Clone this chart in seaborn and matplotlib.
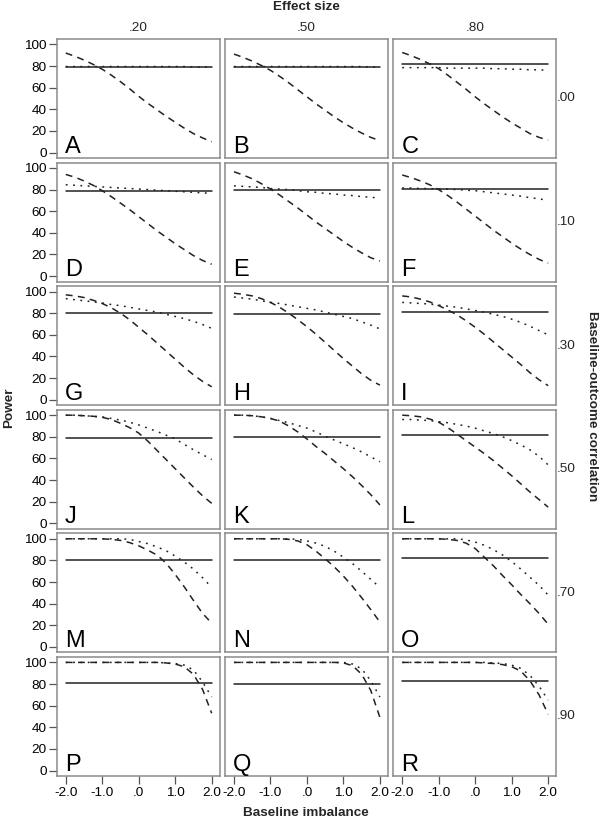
import numpy as np
import pandas as pd
import matplotlib
matplotlib.use("Agg")
import matplotlib.pyplot as plt
import seaborn as sns

# -----------------------------
# Data
# -----------------------------
imbalance = [-2.0, -1.75, -1.5, -1.25, -1.0, -0.75, -0.5, -0.25, 0.0,
             0.25, 0.5, 0.75, 1.0, 1.25, 1.5, 1.75, 2.0]
effect_sizes = [".20", ".50", ".80"]
correlations = [".00", ".10", ".30", ".50", ".70", ".90"]
panel_letters = list("ABCDEFGHIJKLMNOPQR")

x_ticks = [-2.0, -1.0, 0.0, 1.0, 2.0]
x_tick_labels = ["-2.0", "-1.0", ".0", "1.0", "2.0"]
y_ticks = [0, 20, 40, 60, 80, 100]

# solid line: flat power per panel (A..R)
solid_power = [79, 79, 81.5, 78.5, 80, 81, 80, 79, 81.5,
               79, 80, 82, 80, 80, 82.5, 80.5, 80, 82.5]

# dashed line, one list per panel (A..R)
dashed_power = [
    [92, 89, 85.5, 81.5, 77, 71.5, 65.5, 59, 52, 45.5, 39.5, 33.5, 28, 22.5, 17.5, 13.5, 10],
    [91, 88, 84.5, 80.5, 76, 70.5, 64.5, 58, 51.5, 45, 39, 33, 27.5, 22.5, 18, 14, 11],
    [92.5, 89.5, 86, 82, 77.5, 71.5, 65, 58.5, 51.5, 45, 39, 33, 27.5, 22.5, 17.5, 14, 11.5],
    [94, 91.5, 88, 84, 79, 73.5, 67.5, 61.5, 55, 48.5, 42, 36, 30, 24.5, 19, 14.5, 11],
    [96.5, 93.5, 90, 85.5, 80.5, 75, 69, 63, 56.5, 50, 44, 38, 32, 26.5, 21.5, 17, 14],
    [93.5, 91, 88, 84.5, 80, 74.5, 68.5, 62, 55.5, 49, 42.5, 36.5, 30.5, 25, 20, 15.5, 12],
    [97, 96, 94.5, 92, 89, 85, 80, 74, 67, 60, 52.5, 45, 37.5, 30, 23, 17, 12],
    [98.5, 97.5, 96, 93.5, 90, 85.5, 80, 74, 67.5, 60.5, 53, 45.5, 38, 31, 24, 18, 13.5],
    [96, 95, 93, 90.5, 87, 83, 78.5, 73, 67, 60.5, 53.5, 46.5, 39.5, 32.5, 25, 18.5, 13],
    [100, 100, 99.5, 99, 98, 96, 92.5, 88.5, 83.5, 76, 67.5, 59, 50.5, 42, 33.5, 25.5, 18.5],
    [100, 100, 99.5, 98.5, 97, 94.5, 90, 84.5, 78, 71, 64.5, 57.5, 50.5, 43, 35, 26.5, 17],
    [100, 99.5, 98.5, 96.5, 93.5, 88.5, 82.5, 76.5, 70.5, 64.5, 58, 51, 44, 36.5, 29, 22, 15],
    [100, 100, 100, 100, 100, 99.5, 98.5, 96.5, 93.5, 89.5, 85, 77.5, 67, 55.5, 43, 31, 22],
    [100, 100, 100, 100, 100, 100, 99.5, 98, 94.5, 88.5, 81.5, 74, 65.5, 56, 45.5, 34.5, 23],
    [100, 100, 100, 100, 100, 99.5, 98.5, 96, 91, 83, 75, 66, 57.5, 48.5, 40, 31, 21],
    [100, 100, 100, 100, 100, 100, 100, 100, 100, 100, 100, 99.5, 98.5, 96, 89, 75, 53],
    [100, 100, 100, 100, 100, 100, 100, 100, 100, 100, 100, 100, 99.5, 97, 89, 74, 49],
    [100, 100, 100, 100, 100, 100, 100, 100, 100, 99.5, 99, 98, 96, 92, 83, 70, 52],
]

# dotted line, one list per panel (A..R)
dotted_power = [
    [79.5, 79.5, 79.5, 79.5, 79.5, 79.5, 79.5, 79.5, 79.5, 79.5, 79.5, 79.5, 79.5, 79.5, 79, 79, 79],
    [79.5, 79.5, 79.5, 79.5, 79.5, 79.5, 79.5, 79.5, 79.5, 79.5, 79.5, 79.5, 79.5, 79.5, 79.5, 79, 79],
    [78.5, 78.5, 78.5, 78.5, 78.5, 78, 78, 78, 78, 78, 77.5, 77.5, 77, 77, 76.5, 76.5, 76],
    [84.5, 84, 83.5, 83, 82.5, 82, 81.5, 81, 80.5, 80, 79.5, 79, 78.5, 78, 77.5, 77, 76.5],
    [83.5, 83, 82.5, 82, 81, 80.5, 80, 79, 78, 77.5, 76.5, 76, 75, 74.5, 73.5, 73, 72],
    [81.5, 81.5, 81, 81, 80.5, 80.5, 80, 79.5, 79, 78, 77, 76, 75, 74, 72.5, 71.5, 70],
    [93.5, 92.5, 91.5, 90.5, 89.5, 88, 87, 85.5, 84, 82.5, 81, 79, 77, 75, 72.5, 69.5, 66],
    [95, 94, 93, 91.5, 90, 89, 87.5, 86, 84.5, 83, 81, 79, 77, 75, 72, 69, 65.5],
    [90, 89.5, 89, 88.5, 87.5, 86.5, 85.5, 84, 82.5, 81, 79, 77, 74.5, 71.5, 68, 64, 60],
    [100, 100, 99.5, 99, 98.5, 97, 95.5, 93.5, 91, 88, 85, 81.5, 78, 73, 68, 63.5, 59],
    [100, 100, 99.5, 98.5, 97, 95, 93, 90.5, 88, 84.5, 80.5, 77, 73.5, 70, 66, 61.5, 57],
    [96, 96, 95.5, 95, 94, 93, 91.5, 90, 88, 85.5, 83, 80, 76.5, 72.5, 68, 62, 54],
    [100, 100, 100, 100, 100, 100, 100, 99.5, 97.5, 95.5, 92.5, 89, 84, 78.5, 72, 64, 55],
    [100, 100, 100, 100, 100, 100, 100, 99.5, 98, 96, 93, 88.5, 83, 77, 70, 62.5, 55],
    [100, 100, 100, 100, 100, 100, 100, 99, 97, 94, 90, 85, 79, 72, 64.5, 57, 48],
    [100, 100, 100, 100, 100, 100, 100, 100, 100, 100, 100, 99.5, 99, 97.5, 93, 82, 68],
    [100, 100, 100, 100, 100, 100, 100, 100, 100, 100, 100, 100, 100, 98.5, 94, 83, 68],
    [100, 100, 100, 100, 100, 100, 100, 100, 100, 100, 99.5, 99, 97.5, 94.5, 88, 78, 65],
]

# -----------------------------
# Long table for seaborn
# -----------------------------
rows = []
for i in range(18):
    r, c = divmod(i, 3)
    for j, xv in enumerate(imbalance):
        rows.append((correlations[r], effect_sizes[c], xv, solid_power[i], "solid"))
        rows.append((correlations[r], effect_sizes[c], xv, dashed_power[i][j], "dashed"))
        rows.append((correlations[r], effect_sizes[c], xv, dotted_power[i][j], "dotted"))
df = pd.DataFrame(rows, columns=["corr", "es", "imbalance", "power", "line"])

# -----------------------------
# Plot
# -----------------------------
sns.set_style("white")
plt.rcParams["font.family"] = ["Liberation Sans", "DejaVu Sans"]

line_col = "#222222"
spine_col = "#8a8a8a"
fs = 9.7

g = sns.FacetGrid(df, row="corr", col="es", row_order=correlations,
                  col_order=effect_sizes, sharex=True, sharey=True,
                  despine=False, height=1.19, aspect=163 / 119)
g.map_dataframe(sns.lineplot, x="imbalance", y="power", style="line",
                style_order=["solid", "dashed", "dotted"],
                dashes={"solid": "", "dashed": (4.5, 3.5), "dotted": (1.2, 3.6)},
                color=line_col, linewidth=1.1, errorbar=None, legend=False)

g.figure.set_size_inches(6.0, 8.22)
g.figure.subplots_adjust(left=0.095, right=0.927, top=0.9526, bottom=0.056,
                         wspace=0.034, hspace=0.039)
g.set_titles("")
g.set_axis_labels("", "")
g.set(xlim=(-2.24, 2.22), ylim=(-5, 105))

for idx, ax in enumerate(g.axes.flat):
    r, c = divmod(idx, 3)
    for sp in ax.spines.values():
        sp.set_color(spine_col)
        sp.set_linewidth(1.1)
    ax.set_xticks(x_ticks)
    ax.set_yticks(y_ticks)
    ax.tick_params(axis="both", length=0, labelsize=fs, colors="black")
    if c == 0:
        ax.tick_params(axis="y", left=True, length=6, width=0.9,
                       color="#555555", pad=1.5)
        ax.set_yticklabels([str(v) for v in y_ticks])
    if r == 5:
        ax.tick_params(axis="x", bottom=True, length=6, width=0.9,
                       color="#555555", pad=2)
        ax.set_xticklabels(x_tick_labels)
    ax.text(0.048, 0.045, panel_letters[idx], transform=ax.transAxes,
            fontsize=17, ha="left", va="baseline", color="black")

fig = g.figure
for c, lab in enumerate(effect_sizes):
    pos = g.axes[0, c].get_position()
    fig.text((pos.x0 + pos.x1) / 2, 0.966, lab, ha="center", va="center", fontsize=fs)
for r, lab in enumerate(correlations):
    pos = g.axes[r, 2].get_position()
    fig.text(0.928, (pos.y0 + pos.y1) / 2, lab, ha="left", va="center", fontsize=fs)

fig.text(0.51, 0.9915, "Effect size", ha="center", va="center",
         fontsize=fs, fontweight="bold")
fig.text(0.51, 0.0105, "Baseline imbalance", ha="center", va="center",
         fontsize=fs, fontweight="bold")
fig.text(0.016, 0.504, "Power", ha="center", va="center", rotation=90,
         fontsize=fs, fontweight="bold")
fig.text(0.986, 0.506, "Baseline-outcome correlation", ha="center", va="center",
         rotation=270, fontsize=fs, fontweight="bold")

fig.savefig("out.png", dpi=100)
